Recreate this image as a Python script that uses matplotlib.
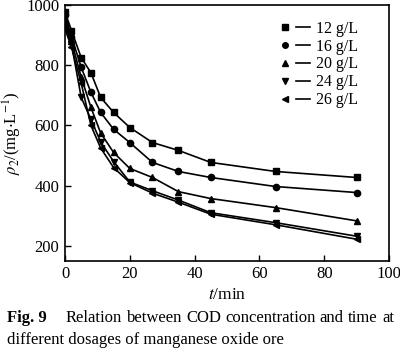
import matplotlib
matplotlib.use("Agg")
import matplotlib.pyplot as plt
from matplotlib.lines import Line2D
from matplotlib.legend_handler import HandlerTuple

# Sampling times (min)
t = [0, 2, 5, 8, 11, 15, 20, 27, 35, 45, 65, 90]

# COD concentration (mg/L) for each dosage
cod_12 = [977, 915, 825, 775, 693, 643, 593, 543, 517, 477, 447, 427]
cod_16 = [968, 895, 793, 710, 643, 587, 543, 477, 447, 427, 397, 377]
cod_20 = [950, 880, 760, 660, 575, 510, 457, 427, 380, 357, 327, 283]
cod_24 = [935, 870, 693, 620, 545, 480, 412, 383, 352, 310, 277, 232]
cod_26 = [920, 860, 740, 600, 525, 460, 410, 375, 345, 305, 270, 222]

labels = ["12 g/L", "16 g/L", "20 g/L", "24 g/L", "26 g/L"]
markers = ["s", "o", "^", "v", "<"]
series = [cod_12, cod_16, cod_20, cod_24, cod_26]

caption1 = "Relation between COD concentration and time at"
caption2 = "different dosages of manganese oxide ore"

plt.rcParams["font.family"] = ["Liberation Serif", "DejaVu Serif"]
plt.rcParams["mathtext.fontset"] = "stix"

fig = plt.figure(figsize=(4.0, 3.54), dpi=100)
ax = fig.add_axes([0.1625, 0.263, 0.81, 0.723])

handles = []
for y, m in zip(series, markers):
    ax.plot(t, y, color="black", linewidth=1.2, marker=m, markersize=4.5)
    mk = Line2D([], [], color="black", marker=m, markersize=4, linestyle="none")
    ln = Line2D([], [], color="black", linewidth=1.2)
    handles.append((mk, ln))

ax.set_xlim(0, 100)
ax.set_ylim(150, 1000)
ax.set_xticks([0, 20, 40, 60, 80, 100])
ax.set_yticks([200, 400, 600, 800, 1000])
ax.tick_params(direction="in", labelsize=12, length=4, width=1, pad=4)
for s in ax.spines.values():
    s.set_linewidth(1.2)

ax.set_xlabel("$t$/min", fontsize=12.5, labelpad=3)
ax.set_ylabel(r"$\rho_2$/(mg$\cdot$L$^{-1}$)", fontsize=12, labelpad=2)

ax.legend(handles, labels, handler_map={tuple: HandlerTuple(ndivide=None, pad=0.3)},
          loc="upper right", bbox_to_anchor=(0.95, 0.995), frameon=False,
          fontsize=11.5, handlelength=2.0, handletextpad=0.4, labelspacing=0.12)

# caption: first line justified between x0 and x1 (pixels)
fig.text(7 / 400, 1 - 318 / 354, "Fig. 9", fontsize=12, fontweight="bold", va="center")
renderer = fig.canvas.get_renderer()
words = caption1.split()
x0, x1 = 66, 394
texts = [fig.text(0, 1 - 318 / 354, w, fontsize=12, va="center") for w in words]
widths = [tx.get_window_extent(renderer).width for tx in texts]
gap = (x1 - x0 - sum(widths)) / (len(words) - 1)
x = x0
for tx, w in zip(texts, widths):
    tx.set_x(x / 400)
    x += w + gap
fig.text(7 / 400, 1 - 340 / 354, caption2, fontsize=12, va="center")

fig.savefig("out.png", dpi=100)
